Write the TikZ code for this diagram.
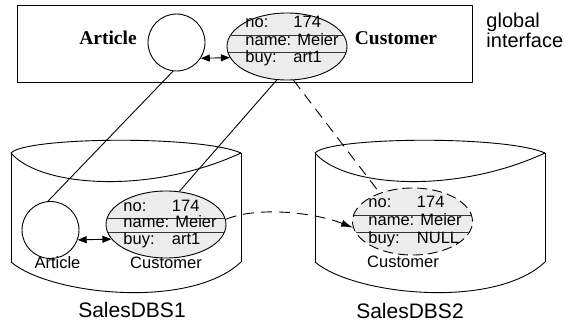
\documentclass[tikz,border=0pt]{standalone}
\usepackage{fontspec}
\setmainfont{Liberation Sans}
\newfontfamily\labelserif{Liberation Serif}
\usetikzlibrary{arrows.meta,shapes.geometric}

\begin{document}
\begin{tikzpicture}[x=1pt,y=-1pt,line width=0.9pt,
  entity/.style={ellipse,draw,fill=gray!15,minimum width=120pt,minimum height=67pt,inner sep=0pt},
  obj/.style={circle,draw,minimum size=57pt,inner sep=0pt},
  rowtxt/.style={anchor=base west,inner sep=0pt,font=\fontsize{16.5}{18}\selectfont},
  smalllbl/.style={anchor=base,inner sep=0pt,font=\fontsize{16.5}{18}\selectfont},
  dblbl/.style={anchor=base,inner sep=0pt,font=\fontsize{21}{24}\selectfont},
  boldlbl/.style={anchor=base,inner sep=0pt,font=\labelserif\bfseries\fontsize{19.5}{22}\selectfont},
  sidelbl/.style={anchor=base west,inner sep=0pt,font=\fontsize{20}{22}\selectfont},
  sep/.style={line width=0.6pt,black!80},
  both/.style={{Triangle[length=9pt,width=7pt]}-{Triangle[length=9pt,width=7pt]}},
  longdash/.style={dash pattern=on 11pt off 7pt},
  ringdash/.style={dash pattern=on 10pt off 5pt}]
\useasboundingbox (0,0) rectangle (571,327);

% the two database cylinders
\foreach \ox in {0,304}{
  \begin{scope}[shift={(\ox,0)}]
    \draw (11,153) .. controls (25,137) and (200,135) .. (241,153);
    \draw (11,153) .. controls (40,187) and (150,195) .. (241,153);
    \draw (11,153) -- (11,262);
    \draw (241,153) -- (241,262);
    \draw (11,262) .. controls (50,295) and (190,310) .. (241,262);
  \end{scope}
}

% global interface frame
\node[draw,minimum width=455pt,minimum height=77pt,inner sep=0pt] (frame) at (244.5,43.5) {};
\node[boldlbl] (gart) at (108,44) {Article};
\node[boldlbl] (gcus) at (396,44) {Customer};
\node[sidelbl] (gl1) at (486,27.5) {global};
\node[sidelbl] (gl2) at (486,47.5) {interface};

% objects in the global interface
\node[obj] (ga) at (176.5,42.5) {};
\node[entity] (gc) at (287,46.5) {};
\begin{scope}
  \clip (287,46.5) ellipse [x radius=60pt,y radius=33.5pt];
  \draw[sep] (220,35) -- (355,35);
  \draw[sep] (220,52) -- (355,52);
\end{scope}
\node[rowtxt] (gr1) at (245,27) {\makebox[48pt][l]{no:}174};
\node[rowtxt] (gr2) at (245,45) {name: Meier};
\node[rowtxt] (gr3) at (245,62) {\makebox[48pt][l]{buy:}art1};
\draw[both] (ga.-33) -- (gc.191.5);

% objects in SalesDBS1
\node[obj] (la) at (50.5,230) {};
\node[entity] (lc) at (166,224.5) {};
\begin{scope}
  \clip (166,224.5) ellipse [x radius=60pt,y radius=33.5pt];
  \draw[sep] (100,218) -- (235,218);
  \draw[sep] (100,232) -- (235,232);
\end{scope}
\node[rowtxt] (lr1) at (123,211) {\makebox[48.5pt][l]{no:}174};
\node[rowtxt] (lr2) at (123,227) {name: Meier};
\node[rowtxt] (lr3) at (123,244) {\makebox[48.5pt][l]{buy:}art1};
\draw[both] (la.-20.5) -- (lc.195);
\node[smalllbl] (lal) at (57.5,268) {Article};
\node[smalllbl] (lcl) at (166,268) {Customer};
\node[dblbl] (db1) at (132,317) {SalesDBS1};

% object in SalesDBS2
\node[entity,ringdash] (rc) at (412.5,221.5) {};
\begin{scope}
  \clip (412.5,221.5) ellipse [x radius=59.5pt,y radius=33.5pt];
  \draw[sep] (345,215) -- (480,215);
  \draw[sep] (345,232) -- (480,232);
\end{scope}
\node[rowtxt] (rr1) at (368,207) {\makebox[48.5pt][l]{no:}174};
\node[rowtxt] (rr2) at (368,225) {name: Meier};
\node[rowtxt] (rr3) at (368,243) {\makebox[48.5pt][l]{buy:}NULL};
\node[smalllbl] (rcl) at (403,267) {Customer};
\node[dblbl] (db2) at (410,318) {SalesDBS2};

% mappings from the global interface to the local schemas
\draw (ga.-97) -- (la.95);
\draw (gc.-107) -- (lc.68);
\draw[longdash] (gc.-79.5) -- (rc.139);
\draw[longdash,-{Latex[length=12pt,width=7pt]}]
  (lc.5) .. controls +(35,-14) and +(-35,-14) .. (rc.186);
\end{tikzpicture}
\end{document}
